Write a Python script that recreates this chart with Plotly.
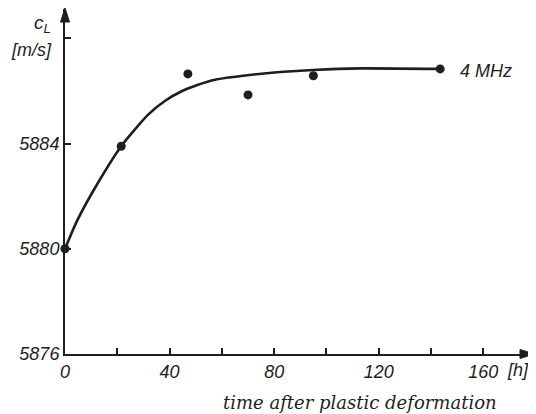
import plotly.graph_objects as go

# measured points (time after plastic deformation [h], c_L [m/s])
pts_t = [0, 21.5, 47, 70, 95, 143.5]
pts_v = [5880.0, 5883.9, 5886.65, 5885.85, 5886.58, 5886.84]

# fitted curve
curve_t = [0, 4.6, 11.5, 21.5, 31.8, 38.3, 44.8, 50.9, 57.4, 69.7, 82.3, 94.9, 112.9, 143.5]
curve_v = [5880.0, 5881.06, 5882.32, 5883.9, 5885.1, 5885.63, 5886.0, 5886.24,
           5886.43, 5886.6, 5886.72, 5886.8, 5886.86, 5886.84]

x_ticks = [0, 40, 80, 120, 160]
x_ticktext = ["0", "40", "80", "120", "160"]
x_minor = [20, 60, 100, 140]
y_ticks = [5876, 5880, 5884]
y_ticktext = ["5876", "5880", "5884"]
y_minor = [5888]

INK = "#1e1e1e"
OFF = 8  # default page body margin
W, H = 536 - OFF, 414 - OFF
AX_X, AX_Y = 65, 354       # page pixel position of axis origin
RIGHT = 533
L, T = AX_X - OFF, 9 - OFF
R, B = W - (RIGHT - OFF), H - (AX_Y - OFF)
pw, ph = W - L - R, H - T - B
XMAX = 179
YMIN, YMAX = 5876, 5876 + ph / 26.3


def px(x):
    return (x - AX_X) / pw


def py(y):
    return (AX_Y - y) / ph


fig = go.Figure()
fig.add_trace(go.Scatter(x=curve_t, y=curve_v, mode="lines",
                         line=dict(color=INK, width=2.6, shape="spline", smoothing=0.6),
                         hoverinfo="skip", showlegend=False, cliponaxis=False))
fig.add_trace(go.Scatter(x=pts_t, y=pts_v, mode="markers",
                         marker=dict(color=INK, size=9), showlegend=False, cliponaxis=False))

tfont = dict(family="Liberation Sans", size=18, color=INK, style="italic")

fig.update_layout(
    width=W, height=H, margin=dict(l=L, r=R, t=T, b=B, autoexpand=False),
    paper_bgcolor="white", plot_bgcolor="white",
    xaxis=dict(range=[0, XMAX], showgrid=False, zeroline=False, showline=True, automargin=False,
               linecolor=INK, linewidth=2, ticks="inside", ticklen=6, tickwidth=1.6,
               tickcolor=INK, tickvals=x_ticks, ticktext=x_ticktext, tickfont=tfont,
               minor=dict(tickvals=x_minor, ticks="inside", ticklen=6, tickwidth=1.6,
                          tickcolor=INK, showgrid=False),
               fixedrange=True),
    yaxis=dict(range=[YMIN, YMAX], showgrid=False, zeroline=False, showline=True, automargin=False,
               linecolor=INK, linewidth=2, ticks="inside", ticklen=6, tickwidth=1.6,
               tickcolor=INK, tickvals=y_ticks, ticktext=y_ticktext, tickfont=tfont,
               minor=dict(tickvals=y_minor, ticks="inside", ticklen=6, tickwidth=1.6,
                          tickcolor=INK, showgrid=False),
               fixedrange=True),
)

# axis arrowheads
shapes = [
    dict(type="path", xref="paper", yref="paper", fillcolor=INK, line=dict(color=INK, width=1),
         path=f"M {px(534)},{py(354)} L {px(520)},{py(349.5)} L {px(520)},{py(358.5)} Z"),
    dict(type="path", xref="paper", yref="paper", fillcolor=INK, line=dict(color=INK, width=1),
         path=f"M {px(65)},{py(8)} L {px(60.5)},{py(22)} L {px(69.5)},{py(22)} Z"),
]


def label(x, y, text, font):
    return dict(x=px(x), y=py(y), xref="paper", yref="paper", showarrow=False,
                xanchor="center", yanchor="middle", text=text, font=font)


ann = [
    label(42, 24, "c<sub>L</sub>", dict(family="Liberation Sans", size=19, color=INK, style="italic")),
    label(31, 50, "[m/s]", tfont),
    label(518, 370, "[h]", tfont),
    label(486, 71, "4 MHz", tfont),
    label(360, 402, "time after plastic deformation",
          dict(family="DejaVu Serif", size=18, color=INK, style="italic")),
]
fig.update_layout(annotations=ann, shapes=shapes)

fig.write_html("out.html")
